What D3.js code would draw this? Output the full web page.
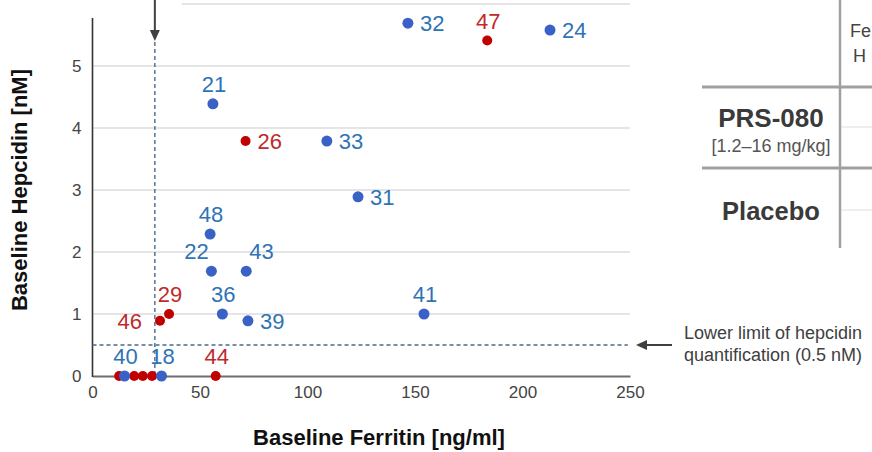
<!DOCTYPE html>
<html><head><meta charset="utf-8">
<script src="https://cdn.jsdelivr.net/npm/d3@7"></script>
<style>
html,body{margin:0;padding:0;background:#fff;overflow:hidden}
svg{display:block;font-family:"Liberation Sans",Arial,sans-serif}
</style></head>
<body><svg id="c" width="872" height="452"></svg>
<script>
// ---- data ----
const prsIds      = ["32","24","21","33","31","48","22","43","36","39","41","40","18"];
const prsFerritin = [146.7,212.8,56,109,123.5,54.7,55.3,71.5,60.4,72.3,154.2,14.9,32.1];
const prsHepcidin = [5.69,5.58,4.39,3.79,2.89,2.29,1.69,1.69,1.0,0.89,1.0,0,0];
const prsLabelSide= ["r","r","t","r","r","t","tl","tr","t","r","t","t","t"];

const plcIds      = ["47","26","29","46","44","","","",""];
const plcFerritin = [183.6,71.2,35.6,31.4,57.3,12.4,19.4,23.4,27.7];
const plcHepcidin = [5.41,3.79,1.0,0.89,0,0,0,0,0];
const plcLabelSide= ["t","r","t","l","t","","","",""];

const xTicks = [0,50,100,150,200,250];
const yTicks = [0,1,2,3,4,5];
const gridValues = [1,2,3,4,5,6];
const ferritinThreshold = 29;
const hepcidinLLOQ = 0.5;

const xTitle = "Baseline Ferritin [ng/ml]";
const yTitle = "Baseline Hepcidin [nM]";
const lloqText = ["Lower limit of hepcidin","quantification (0.5 nM)"];
const tableRows = [{name:"PRS-080", sub:"[1.2–16 mg/kg]"},{name:"Placebo", sub:""}];
const tableHeader = ["Fe","H"];

// ---- drawing ----
const svg = d3.select("#c");
const x = d3.scaleLinear().domain([0,250]).range([92.5,630]);
const y = d3.scaleLinear().domain([0,6]).range([376,4]);

const blueDot="#3a62c6", redDot="#c00000", blueTxt="#2e74b5", redTxt="#bf2a2a";
const FONT="Liberation Sans,Arial,sans-serif";

// gridlines
svg.append("g").selectAll("line").data(gridValues).join("line")
  .attr("x1",d=>d===6?x(41.5):x(0)).attr("x2",x(250))
  .attr("y1",d=>y(d)).attr("y2",d=>y(d))
  .attr("stroke","#dcdcdc").attr("stroke-width",1.5);

// axes
const xAxis = d3.axisBottom(x).tickValues(xTicks).tickSize(0).tickPadding(10).tickFormat(d3.format("d"));
const gx = svg.append("g").attr("transform",`translate(0,${y(0)})`).call(xAxis);
gx.select(".domain").attr("stroke","#6d6d6d").attr("stroke-width",2);
gx.selectAll("text").attr("font-size",17).attr("fill","#444").attr("font-family",FONT);

const yAxis = d3.axisLeft(y).tickValues(yTicks).tickSize(0).tickPadding(11).tickFormat(d3.format("d"));
const gy = svg.append("g").attr("transform",`translate(${x(0)},0)`).call(yAxis);
gy.select(".domain").remove();
gy.selectAll("text").attr("font-size",17).attr("fill","#444").attr("font-family",FONT);
svg.append("line").attr("x1",x(0)).attr("x2",x(0)).attr("y1",18).attr("y2",y(0)+1)
  .attr("stroke","#333").attr("stroke-width",1.6);

// threshold dashed lines
svg.append("line").attr("x1",x(ferritinThreshold)).attr("x2",x(ferritinThreshold))
  .attr("y1",42).attr("y2",y(0))
  .attr("stroke","#4a6a8a").attr("stroke-width",1.4).attr("stroke-dasharray","4,3");
svg.append("line").attr("x1",x(0)).attr("x2",x(249))
  .attr("y1",y(hepcidinLLOQ)).attr("y2",y(hepcidinLLOQ))
  .attr("stroke","#4a6a8a").attr("stroke-width",1.4).attr("stroke-dasharray","4,3");

// arrows
const arrowCol="#404040";
const ax = x(ferritinThreshold);
svg.append("line").attr("x1",ax).attr("x2",ax).attr("y1",0).attr("y2",32).attr("stroke",arrowCol).attr("stroke-width",2);
svg.append("path").attr("d",`M${ax-5},30 L${ax+5},30 L${ax},41 Z`).attr("fill",arrowCol);
const ay = y(hepcidinLLOQ);
svg.append("line").attr("x1",645).attr("x2",672).attr("y1",ay).attr("y2",ay).attr("stroke",arrowCol).attr("stroke-width",2);
svg.append("path").attr("d",`M647,${ay-5} L647,${ay+5} L636,${ay} Z`).attr("fill",arrowCol);
svg.append("g").selectAll("text").data(lloqText).join("text")
  .attr("x",684).attr("y",(d,i)=>339+i*22).attr("font-size",18).attr("fill","#404040").text(d=>d);

// points
function drawSeries(ids,fx,hy,sides,dotCol,txtCol,r){
  const data = ids.map((id,i)=>({id,fx:fx[i],hy:hy[i],side:sides[i]}));
  const g = svg.append("g");
  g.selectAll("circle").data(data).join("circle")
    .attr("cx",d=>x(d.fx)).attr("cy",d=>y(d.hy)).attr("r",r).attr("fill",dotCol);
  g.selectAll("text").data(data.filter(d=>d.id)).join("text")
    .attr("x",d=>x(d.fx)+({r:12,t:1,tl:-15,tr:3,l:-18}[d.side]))
    .attr("y",d=>y(d.hy)+(d.side==="r"||d.side==="l"?8:-12))
    .attr("text-anchor",d=>({r:"start",t:"middle",tl:"middle",tr:"start",l:"end"}[d.side]))
    .attr("font-size",22).attr("fill",txtCol).text(d=>d.id);
}
drawSeries(plcIds,plcFerritin,plcHepcidin,plcLabelSide,redDot,redTxt,5);
drawSeries(prsIds,prsFerritin,prsHepcidin,prsLabelSide,blueDot,blueTxt,5.5);

// axis titles
svg.append("text").attr("x",379).attr("y",445).attr("text-anchor","middle")
  .attr("font-size",22).attr("font-weight","bold").attr("fill","#111").text(xTitle);
svg.append("text").attr("transform","translate(27,190) rotate(-90)").attr("text-anchor","middle")
  .attr("font-size",22).attr("font-weight","bold").attr("fill","#111").text(yTitle);

// table fragment
const tcol="#a0a0a0";
svg.append("line").attr("x1",840).attr("x2",840).attr("y1",0).attr("y2",248).attr("stroke",tcol).attr("stroke-width",2.5);
[87,168].forEach(yy=>svg.append("line").attr("x1",702).attr("x2",872).attr("y1",yy).attr("y2",yy).attr("stroke",tcol).attr("stroke-width",3));
[127,210].forEach(yy=>svg.append("line").attr("x1",841).attr("x2",872).attr("y1",yy).attr("y2",yy).attr("stroke","#dedede").attr("stroke-width",1));
svg.append("g").selectAll("text").data(tableHeader).join("text")
  .attr("x",(d,i)=>850+i*3).attr("y",(d,i)=>37+i*25).attr("font-size",18).attr("fill","#444").text(d=>d);
svg.append("text").attr("x",771).attr("y",127).attr("text-anchor","middle").attr("font-size",26).attr("font-weight","bold").attr("fill","#3a3a3a").text(tableRows[0].name);
svg.append("text").attr("x",771).attr("y",152).attr("text-anchor","middle").attr("font-size",18).attr("fill","#555").text(tableRows[0].sub);
svg.append("text").attr("x",771).attr("y",220).attr("text-anchor","middle").attr("font-size",25.5).attr("font-weight","bold").attr("fill","#3a3a3a").text(tableRows[1].name);
</script></body></html>
